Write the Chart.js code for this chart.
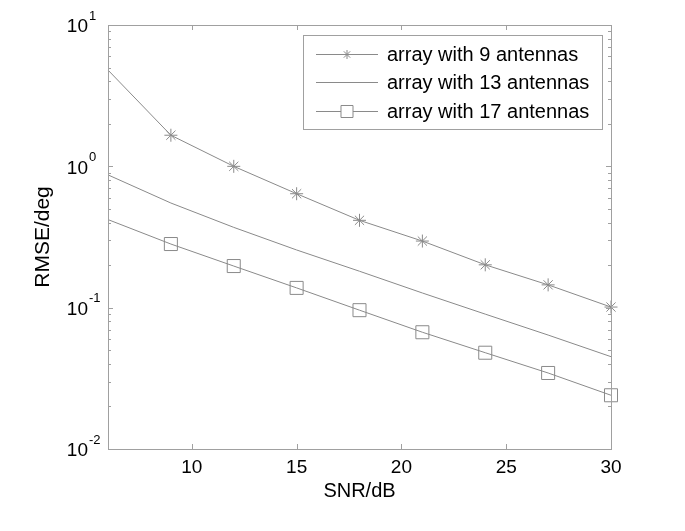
<!DOCTYPE html>
<html>
<head>
<meta charset="utf-8">
<script src="https://cdn.jsdelivr.net/npm/chart.js@4.4.0/dist/chart.umd.min.js"></script>
<style>
  html, body { margin: 0; padding: 0; background: #fff; }
  canvas { display: block; }
</style>
</head>
<body>
<canvas id="rmseChart" width="685" height="531"></canvas>
<script>
// data
const snr = [6, 9, 12, 15, 18, 21, 24, 27, 30];
const rmse9 = [4.8, 1.66, 1.0, 0.64, 0.415, 0.296, 0.201, 0.145, 0.101];
const rmse13 = [0.87, 0.55, 0.37, 0.256, 0.181, 0.127, 0.09, 0.064, 0.045];
const rmse17 = [0.42, 0.282, 0.197, 0.138, 0.096, 0.067, 0.048, 0.0345, 0.024];
const xTicks = [10, 15, 20, 25, 30];
const yDecades = [0.01, 0.1, 1, 10];
const yExponents = ['-2', '-1', '0', '1'];
const seriesNames = ['array with 9 antennas', 'array with 13 antennas', 'array with 17 antennas'];

const FONT = '"Liberation Sans", Arial, sans-serif';
const LINE = '#8a8a8a';
const AXIS = '#a0a0a0';

// no marker at the first point (6 dB)
function markerRadius(r) {
  return snr.map((x, i) => (i === 0 ? 0 : r));
}

// axes box, inward ticks, y labels, titles and legend (matlab look)
const matlabAxes = {
  id: 'matlabAxes',
  afterDraw(chart) {
    const ctx = chart.ctx;
    const area = chart.chartArea;
    const xs = chart.scales.x;
    const ys = chart.scales.y;
    ctx.save();

    // box
    ctx.strokeStyle = AXIS;
    ctx.lineWidth = 1;
    ctx.strokeRect(Math.round(area.left) + 0.5, Math.round(area.top) + 0.5,
      Math.round(area.right - area.left), Math.round(area.bottom - area.top));

    // x ticks bottom + top
    ctx.beginPath();
    xTicks.forEach(v => {
      const px = Math.round(xs.getPixelForValue(v)) + 0.5;
      ctx.moveTo(px, area.bottom);
      ctx.lineTo(px, area.bottom - 5);
      ctx.moveTo(px, area.top);
      ctx.lineTo(px, area.top + 5);
    });
    // y ticks left + right, major and minor
    yDecades.forEach((d, i) => {
      const py = Math.round(ys.getPixelForValue(d)) + 0.5;
      ctx.moveTo(area.left, py);
      ctx.lineTo(area.left + 5, py);
      ctx.moveTo(area.right, py);
      ctx.lineTo(area.right - 5, py);
      if (i < yDecades.length - 1) {
        for (let k = 2; k <= 9; k++) {
          const my = Math.round(ys.getPixelForValue(k * d)) + 0.5;
          ctx.moveTo(area.left, my);
          ctx.lineTo(area.left + 3, my);
          ctx.moveTo(area.right, my);
          ctx.lineTo(area.right - 3, my);
        }
      }
    });
    ctx.stroke();

    // y tick labels 10^n
    ctx.fillStyle = '#000';
    yDecades.forEach((d, i) => {
      const py = ys.getPixelForValue(d);
      ctx.font = '19px ' + FONT;
      ctx.textAlign = 'right';
      ctx.textBaseline = 'middle';
      ctx.fillText('10', 88, py + 2);
      ctx.font = '13px ' + FONT;
      ctx.textAlign = 'left';
      ctx.fillText(yExponents[i], 89, py - 9);
    });

    // axis titles
    ctx.font = '20px ' + FONT;
    ctx.textAlign = 'center';
    ctx.textBaseline = 'middle';
    ctx.fillText('SNR/dB', (area.left + area.right) / 2, 491);
    ctx.save();
    ctx.translate(43, (area.top + area.bottom) / 2);
    ctx.rotate(-Math.PI / 2);
    ctx.font = '21px ' + FONT;
    ctx.fillText('RMSE/deg', 0, 0);
    ctx.restore();

    // legend
    const box = { x: 303.5, y: 35.5, w: 299, h: 94 };
    ctx.fillStyle = '#fff';
    ctx.fillRect(box.x, box.y, box.w, box.h);
    ctx.strokeStyle = AXIS;
    ctx.strokeRect(box.x, box.y, box.w, box.h);
    const rows = [54, 82, 111];
    const styles = [
      { pointStyle: 'star', radius: 4.5 },
      null,
      { pointStyle: 'rect', radius: 8.5 }
    ];
    rows.forEach((ry, i) => {
      const y = Math.round(ry) + 0.5;
      ctx.strokeStyle = LINE;
      ctx.lineWidth = 1;
      ctx.beginPath();
      ctx.moveTo(316, y);
      ctx.lineTo(378, y);
      ctx.stroke();
      if (styles[i]) {
        ctx.fillStyle = '#fff';
        Chart.helpers.drawPoint(ctx, { pointStyle: styles[i].pointStyle, radius: styles[i].radius, borderWidth: 1, rotation: 0 }, 347, y);
      }
      ctx.fillStyle = '#000';
      ctx.font = '20px ' + FONT;
      ctx.textAlign = 'left';
      ctx.textBaseline = 'middle';
      ctx.fillText(seriesNames[i], 387, ry + 1);
    });

    ctx.restore();
  }
};

const ctx = document.getElementById('rmseChart').getContext('2d');
const rmseChart = new Chart(ctx, {
  type: 'line',
  data: {
    datasets: [{
      label: seriesNames[0],
      data: snr.map((x, i) => ({ x: x, y: rmse9[i] })),
      borderColor: LINE,
      borderWidth: 1,
      pointStyle: 'star',
      pointRadius: markerRadius(6.5),
      pointBorderColor: LINE,
      pointBorderWidth: 1,
      pointBackgroundColor: 'rgba(0,0,0,0)',
      tension: 0
    }, {
      label: seriesNames[1],
      data: snr.map((x, i) => ({ x: x, y: rmse13[i] })),
      borderColor: LINE,
      borderWidth: 1,
      pointRadius: 0,
      tension: 0
    }, {
      label: seriesNames[2],
      data: snr.map((x, i) => ({ x: x, y: rmse17[i] })),
      borderColor: LINE,
      borderWidth: 1,
      pointStyle: 'rect',
      pointRadius: markerRadius(9.2),
      pointBorderColor: LINE,
      pointBorderWidth: 1,
      pointBackgroundColor: 'rgba(0,0,0,0)',
      tension: 0
    }]
  },
  options: {
    responsive: false,
    animation: false,
    clip: false,
    layout: { padding: { top: 25, right: 74, left: 0, bottom: 0 } },
    plugins: {
      legend: { display: false },
      tooltip: { enabled: false }
    },
    scales: {
      x: {
        type: 'linear',
        min: 6,
        max: 30,
        grid: { display: false, drawTicks: false },
        border: { display: false },
        afterBuildTicks: scale => { scale.ticks = xTicks.map(v => ({ value: v })); },
        afterFit: scale => { scale.height = 82; },
        ticks: {
          color: '#000',
          padding: 7,
          maxRotation: 0,
          autoSkip: false,
          font: { family: FONT, size: 19 }
        }
      },
      y: {
        type: 'logarithmic',
        min: 0.01,
        max: 10,
        grid: { display: false, drawTicks: false },
        border: { display: false },
        afterBuildTicks: scale => { scale.ticks = yDecades.map(v => ({ value: v })); },
        afterFit: scale => { scale.width = 108; },
        ticks: { display: false }
      }
    }
  },
  plugins: [matlabAxes]
});
</script>
</body>
</html>
